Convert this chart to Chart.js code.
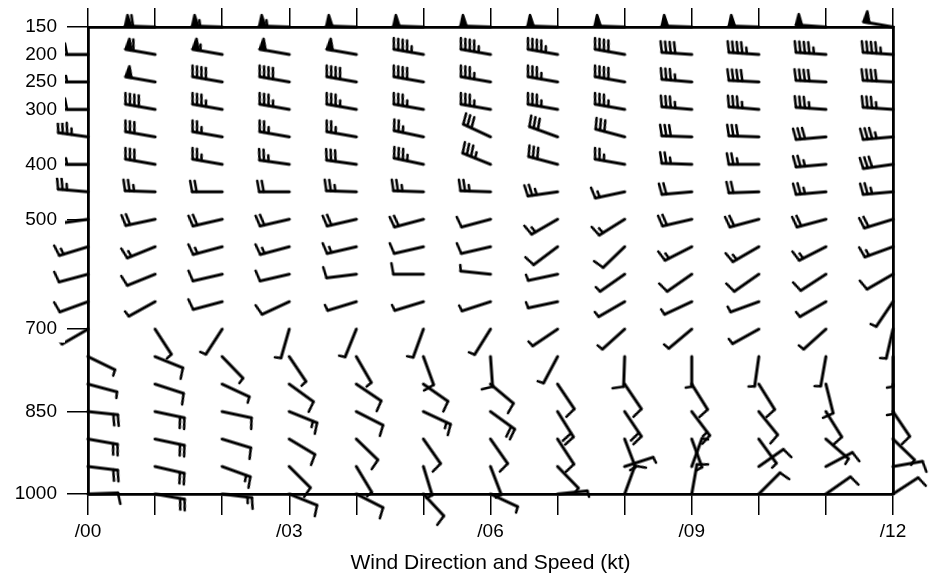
<!DOCTYPE html>
<html>
<head>
<meta charset="utf-8">
<script src="https://cdn.jsdelivr.net/npm/chart.js@4"></script>
<style>
  html, body { margin: 0; padding: 0; background: #fff; }
  #wrap { width: 933px; height: 580px; }
</style>
</head>
<body>
<div id="wrap"><canvas id="windChart" width="933" height="580"></canvas></div>
<script>
// time axis (hours) and pressure levels (mb)
const hours = [0, 1, 2, 3, 4, 5, 6, 7, 8, 9, 10, 11, 12];
const hourLabels = ['/00', '', '', '/03', '', '', '/06', '', '', '/09', '', '', '/12'];
const pressureTicks = [150, 200, 250, 300, 400, 500, 700, 850, 1000];
const axisTitle = 'Wind Direction and Speed (kt)';

// wind direction (deg, from) and speed (kt) per level, one value per hour
const dir150 = [270, 272, 272, 272, 272, 272, 272, 272, 272, 272, 272, 274, 280];
const spd150 = [0, 60, 55, 55, 50, 50, 50, 50, 50, 50, 50, 50, 50];
const dir200 = [270, 280, 280, 280, 280, 280, 280, 280, 280, 274, 274, 274, 274];
const spd200 = [30, 60, 55, 50, 50, 45, 45, 45, 40, 40, 45, 45, 45];
const dir250 = [270, 280, 280, 280, 280, 280, 280, 280, 280, 275, 273, 273, 273];
const spd250 = [25, 50, 40, 40, 40, 40, 35, 35, 40, 35, 40, 40, 40];
const dir300 = [270, 280, 280, 280, 280, 280, 280, 280, 280, 275, 275, 274, 274];
const spd300 = [30, 40, 35, 35, 35, 35, 35, 35, 35, 35, 35, 35, 35];
const dir350 = [278, 280, 280, 280, 280, 282, 295, 290, 285, 272, 272, 265, 265];
const spd350 = [35, 30, 25, 25, 25, 25, 30, 30, 30, 30, 30, 30, 35];
const dir400 = [270, 280, 280, 278, 278, 282, 292, 285, 280, 272, 270, 265, 262];
const spd400 = [25, 30, 25, 25, 30, 35, 35, 30, 25, 25, 25, 25, 30];
const dir450 = [275, 272, 270, 270, 272, 272, 272, 262, 258, 265, 268, 265, 265];
const spd450 = [25, 25, 20, 20, 25, 25, 25, 25, 15, 20, 20, 25, 25];
const dir500 = [262, 258, 257, 257, 257, 255, 255, 240, 238, 257, 255, 255, 253];
const spd500 = [20, 20, 20, 20, 20, 20, 10, 15, 15, 20, 20, 20, 20];
const dir550 = [253, 248, 255, 255, 257, 257, 257, 233, 226, 243, 240, 243, 250];
const spd550 = [15, 15, 15, 15, 15, 10, 10, 10, 10, 15, 15, 15, 15];
const dir600 = [255, 248, 257, 257, 263, 270, 276, 258, 235, 235, 235, 237, 240];
const spd600 = [10, 10, 10, 10, 10, 10, 5, 5, 5, 10, 10, 10, 10];
const dir650 = [250, 241, 255, 245, 253, 253, 252, 258, 240, 245, 250, 240, 214];
const spd650 = [10, 5, 10, 10, 5, 5, 5, 5, 5, 5, 5, 5, 5];
const dir700 = [240, 147, 213, 196, 202, 200, 212, 236, 228, 230, 241, 228, 193];
const spd700 = [10, 5, 5, 5, 5, 5, 5, 5, 5, 5, 5, 5, 5];
const dir750 = [116, 112, 136, 146, 150, 160, 176, 208, 182, 180, 188, 190, 180];
const spd750 = [5, 10, 5, 5, 5, 10, 10, 5, 10, 5, 5, 5, 5];
const dir800 = [105, 108, 115, 126, 124, 125, 130, 146, 146, 148, 148, 166, 180];
const spd800 = [5, 10, 5, 10, 10, 10, 10, 10, 10, 10, 10, 10, 5];
const dir850 = [96, 102, 102, 112, 117, 115, 126, 148, 146, 143, 141, 148, 146];
const spd850 = [20, 20, 10, 15, 10, 15, 20, 20, 20, 15, 10, 10, 10];
const dir900 = [100, 102, 107, 121, 134, 145, 145, 147, 159, 160, 144, 131, 134];
const spd900 = [20, 20, 10, 10, 10, 10, 10, 10, 5, 5, 5, 5, 5];
const dir950 = [97, 103, 110, 135, 149, 163, 159, 136, 72, 20, 55, 62, 80];
const spd950 = [20, 20, 15, 10, 5, 5, 5, 5, 5, 5, 10, 10, 10];
const dir1000 = [88, 100, 97, 112, 117, 137, 115, 84, 20, 10, 45, 55, 57];
const spd1000 = [10, 20, 15, 10, 10, 10, 5, 5, 10, 10, 10, 10, 10];

const soundings = [
    [150, dir150, spd150], [200, dir200, spd200], [250, dir250, spd250],
    [300, dir300, spd300], [350, dir350, spd350], [400, dir400, spd400],
    [450, dir450, spd450], [500, dir500, spd500], [550, dir550, spd550],
    [600, dir600, spd600], [650, dir650, spd650], [700, dir700, spd700],
    [750, dir750, spd750], [800, dir800, spd800], [850, dir850, spd850],
    [900, dir900, spd900], [950, dir950, spd950], [1000, dir1000, spd1000]
];

const points = [];
soundings.forEach(([level, dirs, spds]) => {
    hours.forEach((h, i) => {
        if (spds[i] > 0) points.push({ x: h, y: level, dir: dirs[i], spd: spds[i] });
    });
});

// barb glyph: station at the centre, staff pointing up (north), feathers to the east
const STAFF = 30, FEATHER = 11, GAP = 4.5, FLAG = 6;
const barbCache = {};
function barbImage(speed) {
    if (barbCache[speed]) return barbCache[speed];
    const size = 2 * (STAFF + FEATHER + 6);
    const c = document.createElement('canvas');
    c.width = size;
    c.height = size;
    const g = c.getContext('2d');
    const cx = size / 2, cy = size / 2;
    g.strokeStyle = '#000';
    g.fillStyle = '#000';
    g.lineCap = 'round';
    g.lineJoin = 'round';

    g.lineWidth = 3;
    g.beginPath();
    g.moveTo(cx, cy);
    g.lineTo(cx, cy - STAFF);
    g.stroke();

    let rest = Math.round(speed / 5) * 5;
    let pos = cy - STAFF;
    g.lineWidth = 2.5;
    while (rest >= 50) {
        g.beginPath();
        g.moveTo(cx, pos);
        g.lineTo(cx + FEATHER, pos + FLAG / 2 - 1);
        g.lineTo(cx, pos + FLAG);
        g.closePath();
        g.fill();
        g.stroke();
        pos += FLAG + 2;
        rest -= 50;
    }
    while (rest >= 10) {
        g.beginPath();
        g.moveTo(cx, pos);
        g.lineTo(cx + FEATHER, pos - 2);
        g.stroke();
        pos += GAP;
        rest -= 10;
    }
    if (rest >= 5) {
        g.beginPath();
        g.moveTo(cx, pos);
        g.lineTo(cx + FEATHER * 0.55, pos - 1);
        g.stroke();
    }
    barbCache[speed] = c;
    return c;
}

const FONT = 'Liberation Sans, Arial, Helvetica, sans-serif';
const axisGrid = { drawOnChartArea: false, drawTicks: true, color: '#000', lineWidth: 1.5 };

new Chart(document.getElementById('windChart'), {
    type: 'scatter',
    data: {
        datasets: [{
            label: 'Wind',
            data: points,
            clip: false,
            pointRadius: 3,
            pointStyle: ctx => barbImage(ctx.raw.spd),
            pointRotation: ctx => ctx.raw.dir
        }]
    },
    options: {
        responsive: false,
        animation: false,
        events: [],
        layout: { padding: { left: 0, right: 40, top: 0, bottom: 0 } },
        plugins: { legend: { display: false }, tooltip: { enabled: false } },
        scales: {
            x: {
                type: 'linear',
                position: 'bottom',
                min: 0,
                max: 12,
                afterBuildTicks: s => { s.ticks = hours.map(v => ({ value: v })); },
                afterFit: s => { s.height = 86; },
                grid: { ...axisGrid, tickLength: 21 },
                border: { color: '#000', width: 2.8 },
                ticks: {
                    color: '#000',
                    font: { family: FONT, size: 19 },
                    padding: 5,
                    maxRotation: 0,
                    autoSkip: false,
                    callback: (v, i) => hourLabels[i]
                },
                title: {
                    display: true,
                    text: axisTitle,
                    color: '#000',
                    font: { family: FONT, size: 21 },
                    padding: { top: 0, bottom: 4 }
                }
            },
            xTop: {
                type: 'linear',
                position: 'top',
                min: 0,
                max: 12,
                afterBuildTicks: s => { s.ticks = hours.map(v => ({ value: v })); },
                afterFit: s => { s.height = 27; },
                grid: { ...axisGrid, tickLength: 19 },
                border: { color: '#000', width: 2.8 },
                ticks: { display: false }
            },
            y: {
                type: 'linear',
                position: 'left',
                reverse: true,
                min: 150,
                max: 1000,
                afterBuildTicks: s => { s.ticks = pressureTicks.map(v => ({ value: v })); },
                afterFit: s => { s.width = 88; },
                grid: { ...axisGrid, tickLength: 21 },
                border: { color: '#000', width: 2.8 },
                ticks: {
                    z: 1,
                    color: '#000',
                    font: { family: FONT, size: 19 },
                    padding: 10,
                    showLabelBackdrop: true,
                    backdropColor: '#fff',
                    backdropPadding: { left: 20, right: 8, top: 2, bottom: 2 },
                    callback: v => String(v)
                }
            },
            yRight: {
                type: 'linear',
                position: 'right',
                reverse: true,
                min: 150,
                max: 1000,
                afterFit: s => { s.width = 0; },
                grid: { display: false },
                border: { display: true, color: '#000', width: 2.8 },
                ticks: { display: false }
            }
        }
    }
});
</script>
</body>
</html>
